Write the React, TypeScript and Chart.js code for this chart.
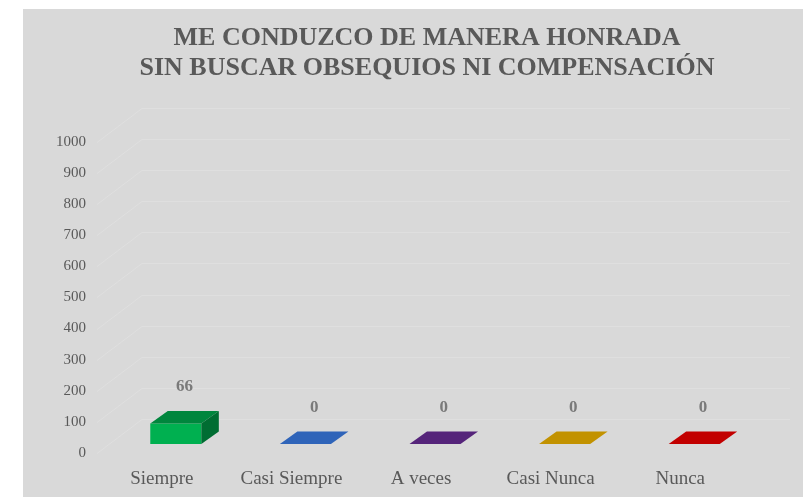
import React, { useEffect, useRef } from 'react';
import { Chart, registerables } from 'chart.js';

Chart.register(...registerables);

const titleLines = ['ME CONDUZCO DE MANERA HONRADA', 'SIN BUSCAR OBSEQUIOS NI COMPENSACIÓN'];
const categories = ['Siempre', 'Casi Siempre', 'A veces', 'Casi Nunca', 'Nunca'];
const values = [66, 0, 0, 0, 0];
const barColors = ['#00B050', '#3E84F4', '#7030A0', '#FFC000', '#FF0000'];
const yMin = 0;
const yMax = 1000;
const yStep = 100;

const FONT = '"Liberation Serif", "Times New Roman", serif';
const BAR_SHIFT = { x: 14, y: -9 };
const DEPTH = { x: 17.5, y: -12.5 };
const WALL = { x: 45, y: -34 };

function shade(hex: string, f: number): string {
  const n = parseInt(hex.slice(1), 16);
  const r = Math.round(((n >> 16) & 255) * f);
  const g = Math.round(((n >> 8) & 255) * f);
  const b = Math.round((n & 255) * f);
  return `rgb(${r},${g},${b})`;
}

const fake3d = {
  id: 'fake3d',
  beforeDatasetsDraw(chart: any) {
    const { ctx, chartArea, scales } = chart;
    const y = scales.y;
    ctx.save();
    ctx.strokeStyle = '#dfdfdf';
    ctx.lineWidth = 1;
    y.ticks.forEach((t: any) => {
      const py = Math.round(y.getPixelForValue(t.value)) + 0.5;
      ctx.beginPath();
      ctx.moveTo(chartArea.left, py);
      ctx.lineTo(chartArea.left + WALL.x, py + WALL.y);
      ctx.lineTo(chartArea.right + WALL.x, py + WALL.y);
      ctx.stroke();
    });
    ctx.restore();
    ctx.save();
    ctx.translate(BAR_SHIFT.x, BAR_SHIFT.y);
  },
  afterDatasetsDraw(chart: any) {
    const ctx = chart.ctx;
    const meta = chart.getDatasetMeta(0);
    meta.data.forEach((el: any, i: number) => {
      const { x, y, base, width } = el.getProps(['x', 'y', 'base', 'width'], true);
      const l = x - width / 2;
      const r = x + width / 2;
      const color = barColors[i];
      ctx.fillStyle = shade(color, 0.76);
      ctx.beginPath();
      ctx.moveTo(l, y);
      ctx.lineTo(r, y);
      ctx.lineTo(r + DEPTH.x, y + DEPTH.y);
      ctx.lineTo(l + DEPTH.x, y + DEPTH.y);
      ctx.closePath();
      ctx.fill();
      if (base - y > 0.5) {
        ctx.fillStyle = shade(color, 0.62);
        ctx.beginPath();
        ctx.moveTo(r, y);
        ctx.lineTo(r + DEPTH.x, y + DEPTH.y);
        ctx.lineTo(r + DEPTH.x, base + DEPTH.y);
        ctx.lineTo(r, base);
        ctx.closePath();
        ctx.fill();
      }
    });
    ctx.fillStyle = '#7a7a7a';
    ctx.font = `bold 17px ${FONT}`;
    ctx.textAlign = 'center';
    ctx.textBaseline = 'middle';
    meta.data.forEach((el: any, i: number) => {
      const { x, y } = el.getProps(['x', 'y'], true);
      ctx.fillText(String(values[i]), x + DEPTH.x / 2, y + DEPTH.y - 24);
    });
    ctx.restore();
  },
};

export default function App() {
  const ref = useRef<HTMLCanvasElement>(null);
  useEffect(() => {
    if (!ref.current) return;
    const chart = new Chart(ref.current, {
      type: 'bar',
      data: {
        labels: categories,
        datasets: [
          {
            data: values,
            backgroundColor: barColors,
            borderWidth: 0,
            barPercentage: 0.394,
            categoryPercentage: 1,
          },
        ],
      },
      options: {
        responsive: false,
        animation: false,
        layout: { padding: { left: 28, right: 0, top: 0, bottom: 0 } },
        plugins: {
          legend: { display: false },
          tooltip: { enabled: false },
          title: {
            display: true,
            text: titleLines,
            color: '#595959',
            font: { family: FONT, size: 26, weight: 'bold', lineHeight: 1.15 },
            padding: { top: 14, bottom: 59 },
          },
        },
        scales: {
          x: {
            grid: { display: false, drawTicks: false },
            border: { display: false },
            ticks: { color: '#595959', font: { family: FONT, size: 19 }, padding: 15 },
            afterFit: (s: any) => {
              s.height = 44;
            },
          },
          y: {
            min: yMin,
            max: yMax,
            grid: { display: false, drawTicks: false },
            border: { display: false },
            ticks: {
              stepSize: yStep,
              color: '#595959',
              font: { family: FONT, size: 15 },
              padding: 11,
              callback: (v: any) => String(v),
            },
            afterFit: (s: any) => {
              s.width = 46;
            },
          },
          yR: {
            position: 'right',
            display: true,
            grid: { display: false, drawTicks: false },
            border: { display: false },
            ticks: { display: false },
            afterFit: (s: any) => {
              s.width = 58;
            },
          },
        },
      },
      plugins: [fake3d],
    } as any);
    return () => chart.destroy();
  }, []);
  return (
    <div
      style={{
        position: 'fixed',
        left: 23,
        top: 9,
        width: 780,
        height: 488,
        background: '#d9d9d9',
      }}
    >
      <canvas ref={ref} width={780} height={488} style={{ display: 'block', width: 780, height: 488 }} />
    </div>
  );
}
